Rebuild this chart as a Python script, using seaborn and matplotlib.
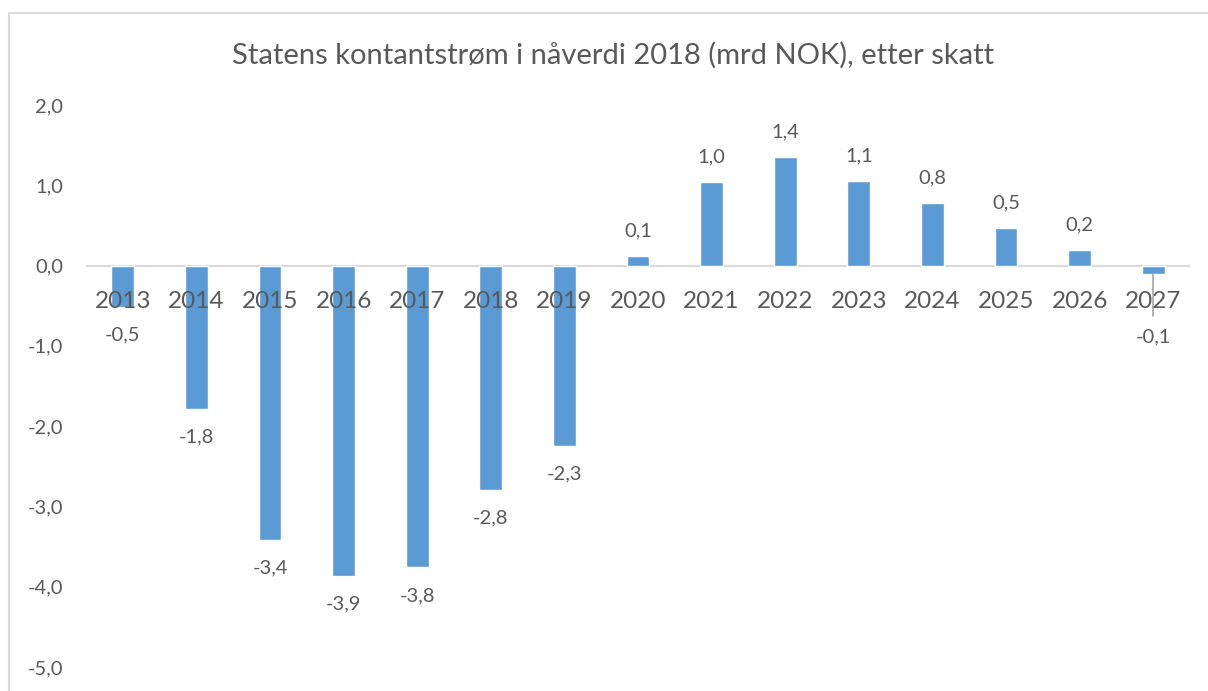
import numpy as np
import pandas as pd
import seaborn as sns
import matplotlib.pyplot as plt
from matplotlib.patches import Rectangle

sns.set_style("white")
plt.rcParams['font.family'] = ['Lato', 'DejaVu Sans']

years = ['2013', '2014', '2015', '2016', '2017', '2018', '2019', '2020',
         '2021', '2022', '2023', '2024', '2025', '2026', '2027']
values = [-0.52, -1.79, -3.42, -3.87, -3.76, -2.79, -2.25, 0.12,
          1.04, 1.35, 1.05, 0.78, 0.47, 0.19, -0.11]
labels = ['-0,5', '-1,8', '-3,4', '-3,9', '-3,8', '-2,8', '-2,3', '0,1',
          '1,0', '1,4', '1,1', '0,8', '0,5', '0,2', '-0,1']
yticks = [-5, -4, -3, -2, -1, 0, 1, 2]

df = pd.DataFrame({'year': years, 'value': values})

txt = '#595959'
fig = plt.figure(figsize=(12.08, 6.91), dpi=100)
ax = fig.add_axes([86 / 1208, 24 / 691, 1104 / 1208, 562 / 691])

# chart border (cut at right/bottom like the screenshot)
fig.patches.append(Rectangle((9 / 1208, -0.1), 1.2, 1 - 13 / 691 + 0.1,
                             transform=fig.transFigure, fill=False,
                             edgecolor='#D9D9D9', linewidth=1.5))

sns.barplot(data=df, x='year', y='value', color='#5B9BD5', width=0.31,
            saturation=1, ax=ax)

ax.set_xlim(-0.5, len(years) - 0.5)
ax.set_ylim(-5, 2)
ax.axhline(0, color='#D9D9D9', linewidth=1.5, zorder=0)
for s in ax.spines.values():
    s.set_visible(False)

ax.set_yticks(yticks)
ax.set_yticklabels([f'{t:.1f}'.replace('.', ',') for t in yticks],
                   fontsize=14.5, color=txt)
ax.tick_params(axis='y', length=0, pad=16.5)
ax.set_xticks([])
ax.set_xlabel('')
ax.set_ylabel('')

for i, (y, v, lab) in enumerate(zip(years, values, labels)):
    ax.annotate(y, (i, 0), xytext=(0, -36), textcoords='offset pixels',
                ha='center', va='center', fontsize=17.5, color=txt)
    if i == len(years) - 1:
        ax.plot([i, i], [v, -0.63], color='#A6A6A6', linewidth=1.2)
        ax.annotate(lab, (i, v), xytext=(0, -62), textcoords='offset pixels',
                    ha='center', va='center', fontsize=14.5, color=txt)
    else:
        off = 25 if v > 0 else -28
        ax.annotate(lab, (i, v), xytext=(0, off), textcoords='offset pixels',
                    ha='center', va='center', fontsize=14.5, color=txt)

fig.text(613 / 1208, 1 - 55 / 691,
         'Statens kontantstrøm i nåverdi 2018 (mrd NOK), etter skatt',
         ha='center', va='center', fontsize=21, color=txt)

fig.savefig('out.png', dpi=100)
